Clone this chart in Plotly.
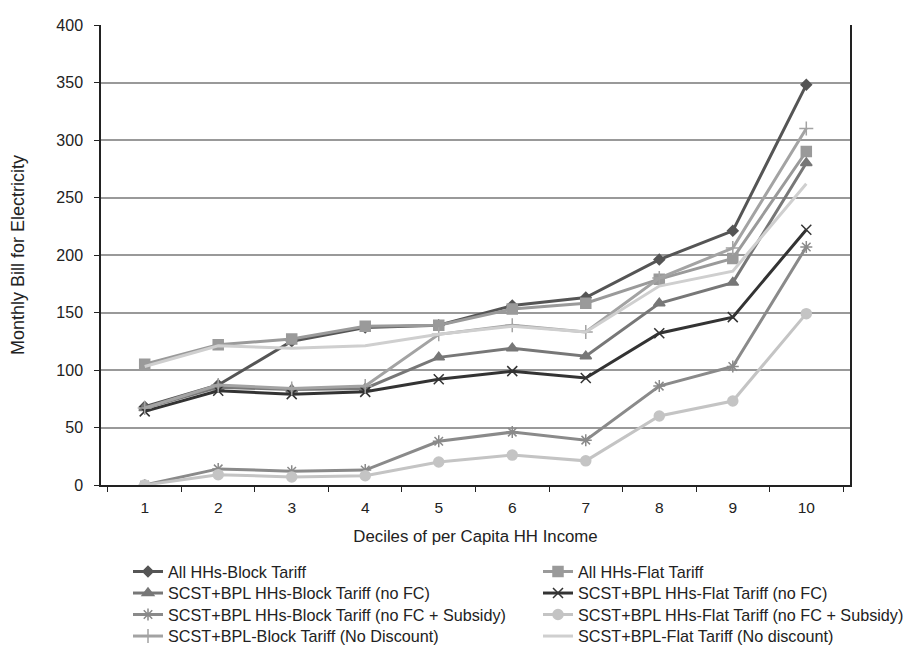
import plotly.graph_objects as go

deciles = ["1", "2", "3", "4", "5", "6", "7", "8", "9", "10"]

all_block = [68, 87, 125, 137, 139, 156, 163, 196, 221, 348]
all_flat = [105, 122, 127, 138, 139, 153, 158, 179, 197, 290]
scst_block_nofc = [67, 85, 83, 84, 111, 119, 112, 158, 176, 280]
scst_flat_nofc = [64, 82, 79, 81, 92, 99, 93, 132, 146, 222]
scst_block_sub = [0, 14, 12, 13, 38, 46, 39, 86, 103, 207]
scst_flat_sub = [0, 9, 7, 8, 20, 26, 21, 60, 73, 149]
scst_block_nd = [67, 87, 84, 86, 131, 139, 133, 180, 206, 310]
scst_flat_nd = [103, 121, 119, 121, 131, 138, 133, 173, 186, 262]

names = [
    "All HHs-Block Tariff",
    "All HHs-Flat Tariff",
    "SCST+BPL HHs-Block Tariff (no FC)",
    "SCST+BPL HHs-Flat Tariff (no FC)",
    "SCST+BPL HHs-Block Tariff (no FC + Subsidy)",
    "SCST+BPL HHs-Flat Tariff (no FC + Subsidy)",
    "SCST+BPL-Block Tariff (No Discount)",
    "SCST+BPL-Flat Tariff (No discount)",
]
series = [all_block, all_flat, scst_block_nofc, scst_flat_nofc,
          scst_block_sub, scst_flat_sub, scst_block_nd, scst_flat_nd]
colors = ["#555555", "#9a9a9a", "#777777", "#333333",
          "#8a8a8a", "#c4c4c4", "#a3a3a3", "#cfcfcf"]
symbols = ["diamond", "square", "triangle-up", "x-thin-open",
           "asterisk-open", "circle", "cross-thin-open", None]
sizes = [8, 10, 10, 10, 10, 10, 10, 0]

# page body has an 8px margin, so the figure is drawn 8px smaller
W, H = 908, 642
ML, MR, MT, MB = 93, 66, 17, 165
pw, ph = W - ML - MR, H - MT - MB

# legend laid out as 2 columns x 4 rows, one legend box per entry (paper coords)
col_x = [(120 - ML) / pw, (530 - ML) / pw]
row_y = [(H - MB - v) / ph for v in (564, 585.5, 607, 628.5)]

fig = go.Figure()
legends = {}
for i, (name, ys, col, sym, sz) in enumerate(zip(names, series, colors, symbols, sizes)):
    key = "legend" if i == 0 else f"legend{i + 1}"
    legends[key] = dict(x=col_x[i % 2], xanchor="left",
                        y=row_y[i // 2], yanchor="middle",
                        font=dict(size=16.2), itemwidth=30, bgcolor="rgba(0,0,0,0)")
    if sym is None:
        mode = "lines"
        marker = None
    else:
        mode = "lines+markers"
        marker = dict(symbol=sym, size=sz, color=col, line=dict(color=col, width=1.5))
    fig.add_trace(go.Scatter(x=deciles, y=ys, name=name, mode=mode, legend=key,
                             showlegend=True,
                             line=dict(color=col, width=3), marker=marker))

fig.update_layout(
    width=W, height=H, showlegend=True,
    margin=dict(l=ML, r=MR, t=MT, b=MB, autoexpand=False),
    plot_bgcolor="white", paper_bgcolor="white",
    font=dict(family="Arial, Liberation Sans", size=14, color="#222222"),
    **legends,
)
fig.update_xaxes(
    type="category", tickson="boundaries", ticks="outside", ticklen=5,
    tickcolor="#222222", showline=True, linecolor="#222222", linewidth=1.5,
    showgrid=False, tickfont=dict(size=15.5), ticklabelstandoff=8,
    title=dict(text="Deciles of per Capita HH Income", standoff=15, font=dict(size=16.8)),
)
fig.update_yaxes(
    range=[0, 400], dtick=50, ticks="outside", ticklen=5, tickcolor="#222222",
    showline=True, linecolor="#222222", linewidth=1.5, mirror=True,
    gridcolor="#999999", gridwidth=1.5, zeroline=False,
    tickfont=dict(size=16), ticklabelstandoff=8,
    title=dict(text="Monthly Bill for Electricity", standoff=31, font=dict(size=18)),
)

fig.write_html("out.html")
